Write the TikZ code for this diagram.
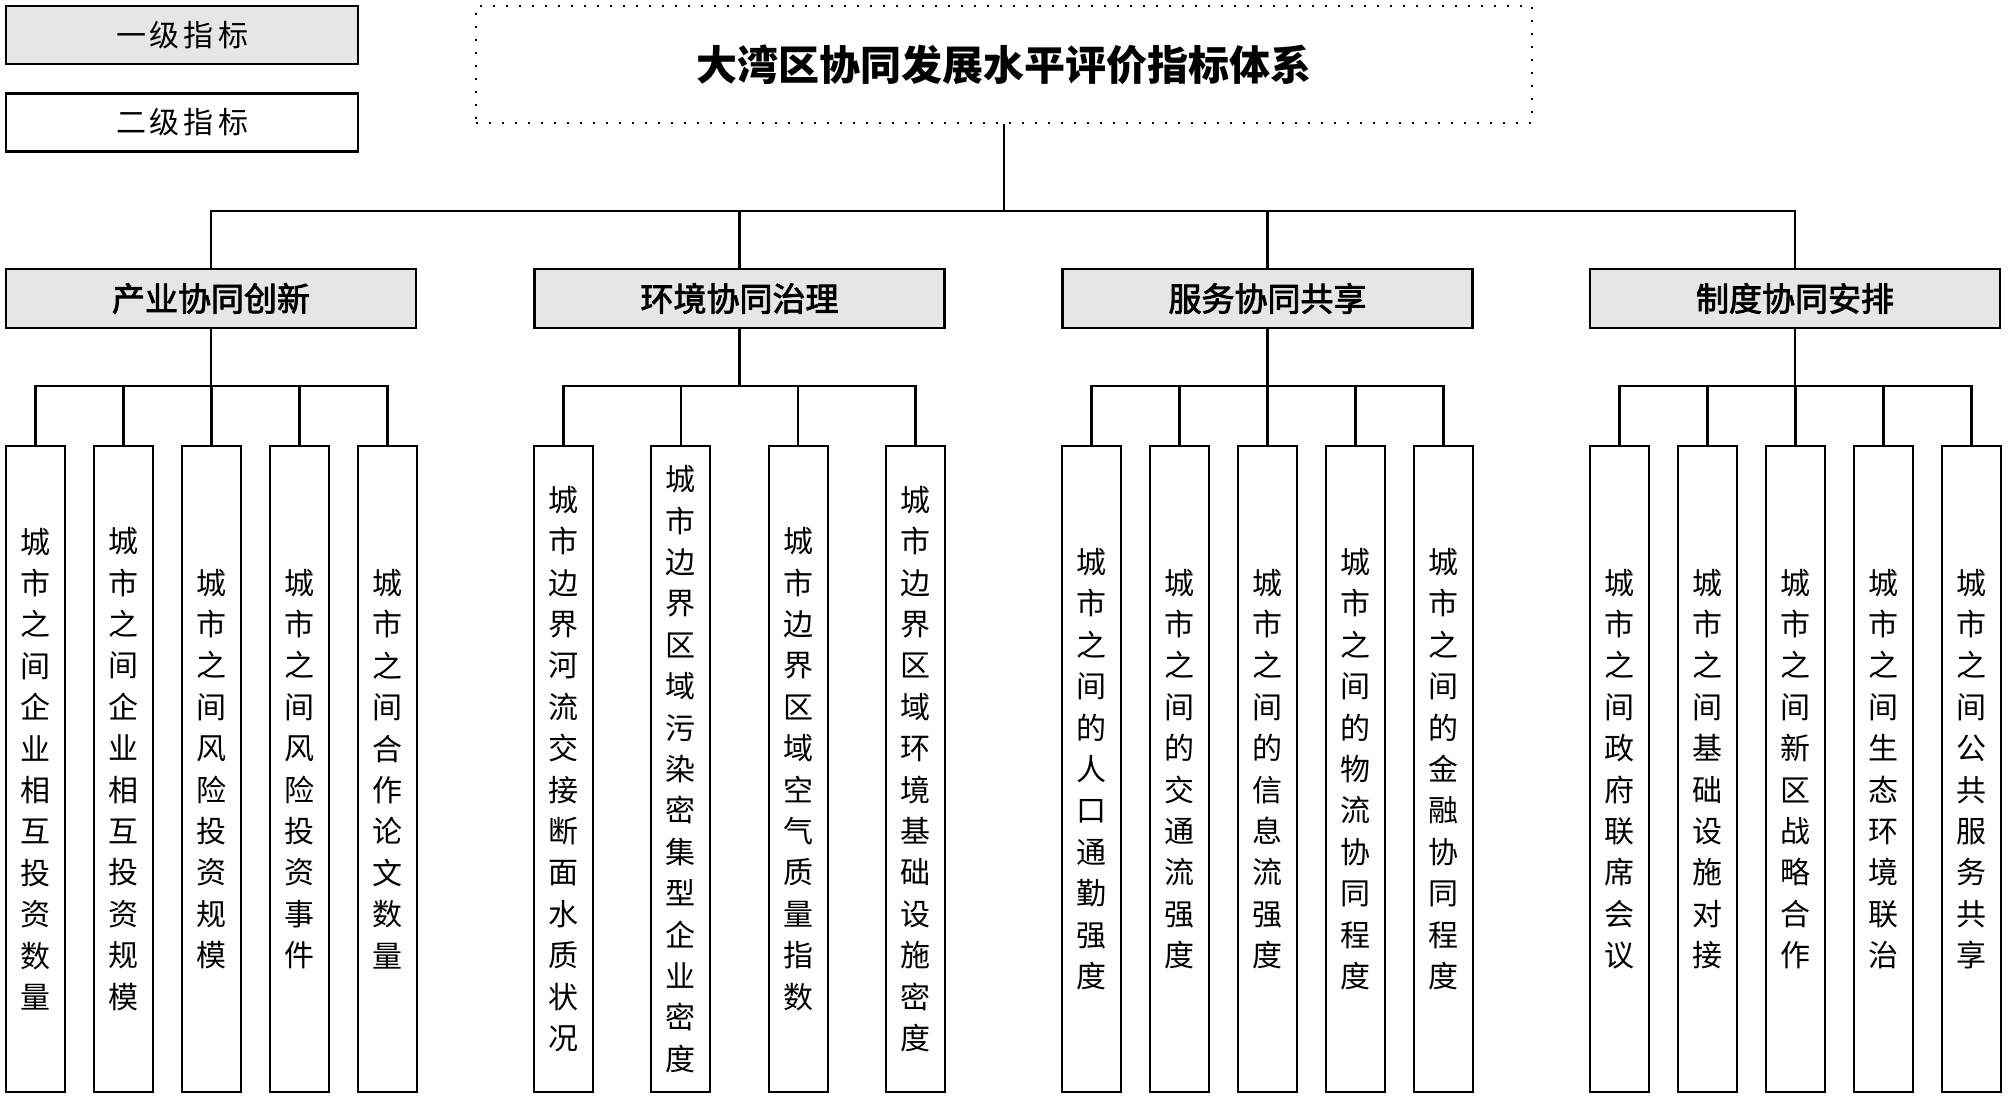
\documentclass[tikz,border=0pt]{standalone}
\usepackage{fontspec}
\setmainfont{Noto Sans CJK SC}
\newfontfamily\medcjk[FakeBold=2.5]{Noto Sans CJK SC}
\definecolor{boxgray}{HTML}{E6E6E6}
\def\vst#1{\vstfirst#1\relax}
\def\vstfirst#1{#1\vstrest}
\def\vstrest#1{\ifx\relax#1\else\\#1\expandafter\vstrest\fi}
\begin{document}
\begin{tikzpicture}[x=0.5pt,y=-0.5pt,line width=1.1pt,
  legendbox/.style={draw,minimum width=176pt,minimum height=29pt,inner sep=0pt,font=\fontsize{15}{15}\selectfont},
  titlebox/.style={draw,line width=0.9pt,dash pattern=on 0.9pt off 5.6pt,minimum width=528pt,minimum height=58.5pt,inner sep=0pt,font=\fontsize{20.5}{20.5}\selectfont\bfseries},
  lvlone/.style={draw,fill=boxgray,minimum width=205pt,minimum height=29.5pt,inner sep=0pt,font=\fontsize{16.5}{16.5}\medcjk},
  leafbox/.style={draw,minimum width=29.5pt,minimum height=323pt,inner sep=0pt,align=center,font=\fontsize{15}{20.7}\selectfont},
  conn/.style={draw,line width=1.1pt}]
\useasboundingbox (0,0) rectangle (2008,1106);
\node[legendbox,fill=boxgray] (lg1) at (182,35) {一\hspace{2pt}级\hspace{2pt}指\hspace{2pt}标};
\node[legendbox] (lg2) at (182,122.5) {二\hspace{2pt}级\hspace{2pt}指\hspace{2pt}标};
\node[titlebox] (root) at (1004,64.5) {大湾区协同发展水平评价指标体系};
\node[lvlone] (g1) at (211,298.5) {产业协同创新};
\node[lvlone] (g2) at (739.5,298.5) {环境协同治理};
\node[lvlone] (g3) at (1267.5,298.5) {服务协同共享};
\node[lvlone] (g4) at (1795,298.5) {制度协同安排};
\foreach \n/\x/\t in {
  a1/35.5/城市之间企业相互投资数量,
  a2/123.5/城市之间企业相互投资规模,
  a3/211.5/城市之间风险投资规模,
  a4/299.5/城市之间风险投资事件,
  a5/387.5/城市之间合作论文数量,
  b1/563.5/城市边界河流交接断面水质状况,
  b2/680.8/城市边界区域污染密集型企业密度,
  b3/798.2/城市边界区域空气质量指数,
  b4/915.5/城市边界区域环境基础设施密度,
  c1/1091.5/城市之间的人口通勤强度,
  c2/1179.5/城市之间的交通流强度,
  c3/1267.5/城市之间的信息流强度,
  c4/1355.5/城市之间的物流协同程度,
  c5/1443.5/城市之间的金融协同程度,
  d1/1619.5/城市之间政府联席会议,
  d2/1707.5/城市之间基础设施对接,
  d3/1795.5/城市之间新区战略合作,
  d4/1883.5/城市之间生态环境联治,
  d5/1971.5/城市之间公共服务共享}
  \node[leafbox] (\n) at (\x,769) {\expandafter\vst\expandafter{\t}};
\foreach \g in {g1,g2,g3,g4}
  \draw[conn] (root.south) -- ++(0,87) -| (\g.north);
\foreach \g/\n in {g1/a1,g1/a2,g1/a3,g1/a4,g1/a5,g2/b1,g2/b2,g2/b3,g2/b4,
  g3/c1,g3/c2,g3/c3,g3/c4,g3/c5,g4/d1,g4/d2,g4/d3,g4/d4,g4/d5}
  \draw[conn] (\g.south) -- ++(0,57) -| (\n.north);
\end{tikzpicture}
\end{document}
